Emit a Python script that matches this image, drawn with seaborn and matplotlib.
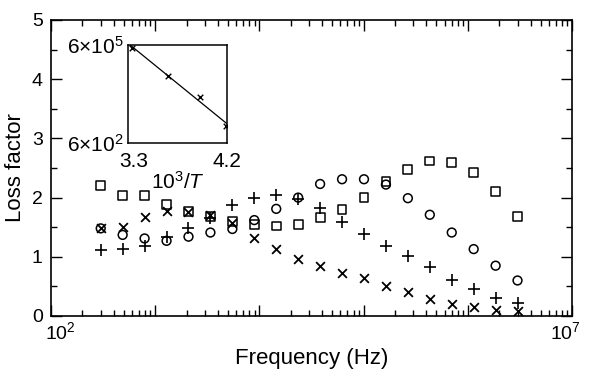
import numpy as np
import pandas as pd
import matplotlib
matplotlib.use("Agg")
import matplotlib.pyplot as plt
import matplotlib.transforms as mtransforms
import seaborn as sns
from matplotlib.ticker import FixedLocator, NullFormatter, FixedFormatter

# ---- data ----
freq_hz = [300, 487, 791, 1285, 2087, 3388, 5502, 8934, 14507, 23557,
           38252, 62115, 100865, 163789, 265967, 431887, 701316, 1138826,
           1849267, 3000000]
loss_square = [2.21, 2.04, 2.03, 1.89, 1.76, 1.68, 1.60, 1.55, 1.52, 1.55,
               1.66, 1.80, 2.00, 2.27, 2.47, 2.62, 2.59, 2.43, 2.10, 1.68]
loss_circle = [1.48, 1.37, 1.31, 1.27, 1.34, 1.41, 1.47, 1.62, 1.81, 2.00,
               2.23, 2.31, 2.31, 2.22, 1.99, 1.71, 1.41, 1.13, 0.85, 0.60]
loss_plus = [1.11, 1.13, 1.18, 1.34, 1.48, 1.66, 1.875, 2.00, 2.04, 1.98,
             1.82, 1.59, 1.385, 1.19, 1.01, 0.82, 0.60, 0.46, 0.31, 0.22]
loss_cross = [1.48, 1.50, 1.67, 1.77, 1.76, 1.70, 1.57, 1.32, 1.13, 0.96,
              0.845, 0.73, 0.64, 0.51, 0.40, 0.29, 0.21, 0.16, 0.10, 0.08]

inset_x = [3.334, 3.666, 3.955, 4.188]          # 10^3/T
inset_y = [5.1e5, 6.9e4, 1.54e4, 2.03e3]        # frequency of peak
inset_line_x = [3.32, 4.20]

x_ticklabels = ["$10^{2}$", "", "", "", "", "$10^{7}$"]
y_ticklabels = ["0", "1", "2", "3", "4", "5"]

# ---- style ----
sns.set_theme(style="ticks")
plt.rcParams["font.family"] = ["Liberation Sans", "DejaVu Sans"]
plt.rcParams["mathtext.fontset"] = "custom"
plt.rcParams["mathtext.rm"] = "Liberation Sans"
plt.rcParams["mathtext.it"] = "Liberation Sans:italic"
plt.rcParams["mathtext.bf"] = "Liberation Sans:bold"

fig = plt.figure(figsize=(5.89, 3.69), dpi=100)
ax = fig.add_axes([51/589, 1-316/369, (572-51)/589, (316-20)/369])

df = pd.DataFrame({"freq": freq_hz, "sq": loss_square, "ci": loss_circle,
                   "pl": loss_plus, "cr": loss_cross})

sns.scatterplot(data=df, x="freq", y="sq", marker="s", s=40, facecolor="none",
                edgecolor="black", linewidth=1.1, ax=ax, zorder=3)
sns.scatterplot(data=df, x="freq", y="ci", marker="o", s=40, facecolor="none",
                edgecolor="black", linewidth=1.1, ax=ax, zorder=3)
sns.scatterplot(data=df, x="freq", y="pl", marker="+", s=80, color="black",
                linewidth=1.2, ax=ax, zorder=3)
sns.scatterplot(data=df, x="freq", y="cr", marker="x", s=40, color="black",
                linewidth=1.3, ax=ax, zorder=3)

ax.set_xscale("log")
ax.set_xlim(1e2, 1e7)
ax.set_ylim(0, 5)
ax.xaxis.set_major_locator(FixedLocator([1e2, 1e3, 1e4, 1e5, 1e6, 1e7]))
ax.xaxis.set_major_formatter(FixedFormatter(x_ticklabels))
ax.xaxis.set_minor_locator(FixedLocator([m * 10**e for e in range(2, 7) for m in range(2, 10)]))
ax.xaxis.set_minor_formatter(NullFormatter())
ax.set_yticks([0, 1, 2, 3, 4, 5])
ax.set_yticklabels(y_ticklabels)
ax.set_yticks([0.5, 1.5, 2.5, 3.5, 4.5], minor=True)
ax.tick_params(which="both", direction="in", top=True, right=True, colors="black",
               labelsize=14, width=1.0)
ax.tick_params(which="major", length=8, pad=6)
ax.tick_params(axis="x", which="major", pad=4)
ax.tick_params(which="minor", length=4.5)
for sp in ax.spines.values():
    sp.set_color("black")
    sp.set_linewidth(1.2)
ax.set_xlabel("Frequency (Hz)", fontsize=16, color="black", labelpad=3)
ax.set_ylabel("Loss factor", fontsize=16, color="black", labelpad=4)

# nudge the end labels inward like the reference
xlabels = ax.get_xticklabels()
xlabels[0].set_transform(xlabels[0].get_transform() +
                         mtransforms.ScaledTranslation(9/100, 0, fig.dpi_scale_trans))
xlabels[-1].set_transform(xlabels[-1].get_transform() +
                          mtransforms.ScaledTranslation(-7/100, 0, fig.dpi_scale_trans))

# ---- inset ----
axi = fig.add_axes([128/589, 1-143.3/369, 99/589, 98/369])
idf = pd.DataFrame({"invT": inset_x, "f": inset_y})
sns.scatterplot(data=idf, x="invT", y="f", marker="x", s=16, color="black",
                linewidth=1.0, ax=axi, zorder=3)
coef = np.polyfit(inset_x, np.log10(inset_y), 1)
line_y = 10 ** np.polyval(coef, np.array(inset_line_x))
sns.lineplot(x=inset_line_x, y=line_y, color="black", linewidth=0.9, ax=axi)
axi.set_yscale("log")
axi.set_xlim(3.3, 4.2)
axi.set_ylim(6e2, 6e5)
axi.set_xticks([3.3, 4.2])
axi.set_xticklabels(["3.3", "4.2"])
axi.set_yticks([6e2, 6e5])
axi.set_yticklabels([r"6$\times$10$^{2}$", r"6$\times$10$^{5}$"])
axi.yaxis.set_minor_locator(FixedLocator([]))
axi.tick_params(which="both", length=0, labelsize=15, colors="black")
axi.tick_params(axis="y", pad=3)
axi.tick_params(axis="x", pad=6)
axi.set_xlabel(r"10$^{3}$/$T$", fontsize=15, color="black", labelpad=0)
axi.set_ylabel("")
for sp in axi.spines.values():
    sp.set_color("black")
    sp.set_linewidth(1.1)
ilabels = axi.get_xticklabels()
ilabels[0].set_transform(ilabels[0].get_transform() +
                         mtransforms.ScaledTranslation(6/100, 0, fig.dpi_scale_trans))

fig.savefig("out.png", dpi=100)
